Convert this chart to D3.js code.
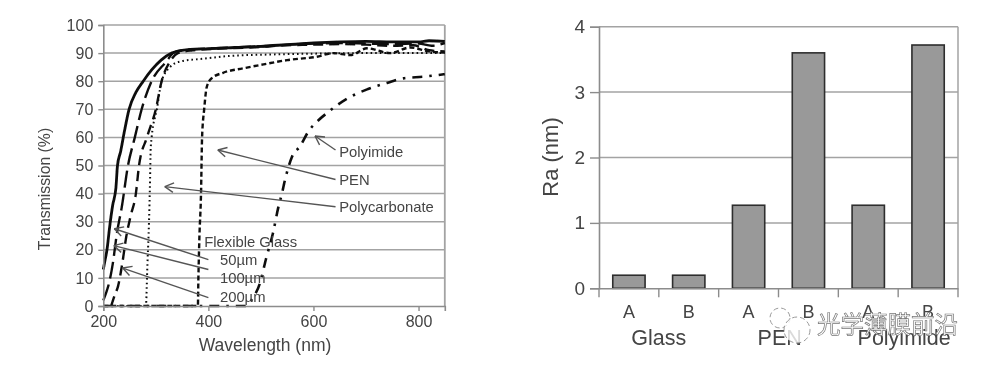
<!DOCTYPE html>
<html>
<head>
<meta charset="utf-8">
<script src="https://cdnjs.cloudflare.com/ajax/libs/d3/7.8.5/d3.min.js"></script>
<style>
  html, body { margin: 0; padding: 0; background: #fff; }
  svg { display: block; font-family: "Liberation Sans", Arial, sans-serif; }
  text { fill: #444; }
</style>
</head>
<body>
<script>
// [wavelength, transmission]
var glass50 = [[200,13],[203,16],[207,20],[212,28],[218,36],[224,42],[227,50],[233,55],[240,62],[249,70],[262,76],[276,80],[292,84],[310,87.5],[330,90],[350,91],[400,91.6],[450,92],[500,92.4],[550,93],[600,93.6],[650,94],[700,94.2],[750,94],[800,94],[820,94.4],[850,94.2]];
var glass100 = [[200,2],[206,5],[212,9],[218,15],[226,26],[235,35],[247,50],[260,60],[273,70],[292,80],[320,87],[333,90],[350,91],[400,91.6],[450,92],[500,92.4],[550,93],[600,93.4],[650,93.6],[700,93.4],[750,93.2],[800,93.4],[825,92.6],[850,93.6]];
var glass200 = [[215,0],[222,4],[228,7],[236,15],[244,25],[252,32],[262,40],[268,50],[283,60],[300,70],[311,80],[327,87],[342,90],[370,91],[420,91.6],[480,92],[550,92.8],[600,93],[650,93.2],[700,93],[750,92.6],[790,92.8],[820,91],[850,90.6]];
var polycarbonate = [[200,0],[281,0],[284,15],[287,30],[289,45],[290,55],[292,60],[302,70],[311,80],[327,85],[346,87],[390,88],[441,89],[518,89.5],[600,89.8],[700,90],[780,90],[850,90]];
var pen = [[200,0],[380,0],[381,10],[383,25],[386,40],[388,60],[392,70],[397,78],[406,81],[428,83],[467,84.6],[505,86],[550,87.5],[606,88.7],[638,90],[670,89.3],[702,91.7],[746,90],[784,92],[820,90.6],[850,90.2]];
var polyimide = [[200,0],[470,0],[485,3],[498,8],[510,17],[523,26],[533,35],[540,40],[546,45],[559,53],[575,57],[590,62],[609,66],[628,69],[666,74],[701,77],[740,79.4],[771,81],[809,81.6],[850,82.5]];

var seriesList = [
  {name: "Polyimide", values: polyimide, dash: "10,7,2.5,7", width: 2.6},
  {name: "PEN", values: pen, dash: "5,3", width: 2.4},
  {name: "Polycarbonate", values: polycarbonate, dash: "1.6,3", width: 2},
  {name: "200um", values: glass200, dash: "10,6", width: 2.4},
  {name: "100um", values: glass100, dash: "17,6", width: 2.4},
  {name: "50um", values: glass50, dash: null, width: 2.8}
];

var wavelengthTicks = [200, 400, 600, 800];
var transmissionTicks = [0, 10, 20, 30, 40, 50, 60, 70, 80, 90, 100];

// arrows and labels, in data units of the left chart
var arrows = [
  [[642,55.5],[603,60.5]],
  [[642,45],[418,55.5]],
  [[642,35.3],[317,42.5]],
  [[400,16.5],[221,27.5]],
  [[400,13],[220,21.5]],
  [[400,3],[237,13.5]]
];
var curveLabels = [
  {text: "Polyimide", w: 649, t: 55},
  {text: "PEN", w: 649, t: 45},
  {text: "Polycarbonate", w: 649, t: 35.3},
  {text: "Flexible Glass", w: 392, t: 22.8},
  {text: "50\u00b5m", w: 422, t: 16.5},
  {text: "100\u00b5m", w: 422, t: 10},
  {text: "200\u00b5m", w: 422, t: 3.3}
];

var barCategories = ["g-A", "g-B", "p-A", "p-B", "i-A", "i-B"];
var barLabels = ["A", "B", "A", "B", "A", "B"];
var barValues = [0.2, 0.2, 1.27, 3.6, 1.27, 3.72];
var groupLabels = ["Glass", "PEN", "Polyimide"];
var groupCenters = [1, 3.02, 5.1];   // in band steps from the axis
var raTicks = [0, 1, 2, 3, 4];

var svg = d3.select("body").append("svg").attr("width", 992).attr("height", 368);

var defs = svg.append("defs");
defs.append("filter").attr("id", "soft").attr("x", "-5%").attr("y", "-5%").attr("width", "110%").attr("height", "110%")
  .append("feGaussianBlur").attr("stdDeviation", 0.45);

var page = svg.append("g").attr("filter", "url(#soft)");

var gridColor = "#a3a3a3";

function styleAxis(g, size) {
  g.select(".domain").attr("stroke", "#8c8c8c").attr("stroke-width", 1.6);
  g.selectAll(".tick line").attr("stroke", "#8c8c8c").attr("stroke-width", 1.4);
  g.selectAll(".tick text").attr("font-size", size).attr("fill", "#444");
}

// ---- left chart
var x = d3.scaleLinear().domain([200, 850]).range([103.3, 444.8]);
var y = d3.scaleLinear().domain([0, 100]).range([306, 25]);

var left = page.append("g");

left.selectAll("line.grid").data(transmissionTicks.slice(1)).enter().append("line")
  .attr("class", "grid")
  .attr("x1", x(200)).attr("x2", x(850))
  .attr("y1", function(d) { return y(d); }).attr("y2", function(d) { return y(d); })
  .attr("stroke", gridColor).attr("stroke-width", 1.5);

left.append("line")
  .attr("x1", x(850)).attr("x2", x(850)).attr("y1", y(0)).attr("y2", y(100))
  .attr("stroke", gridColor).attr("stroke-width", 1.8);

var line = d3.line()
  .x(function(d) { return x(d[0]); })
  .y(function(d) { return y(d[1]); })
  .curve(d3.curveMonotoneX);

left.selectAll("path.curve").data(seriesList).enter().append("path")
  .attr("class", "curve")
  .attr("d", function(d) { return line(d.values); })
  .attr("fill", "none")
  .attr("stroke", "#111")
  .attr("stroke-width", function(d) { return d.width; })
  .attr("stroke-dasharray", function(d) { return d.dash; });

left.append("g").attr("transform", "translate(0," + y(0) + ")")
  .call(d3.axisBottom(x).tickValues(wavelengthTicks).tickSize(5).tickPadding(5).tickFormat(d3.format("d")))
  .call(styleAxis, 16);

left.append("g").attr("transform", "translate(" + x(200) + ",0)")
  .call(d3.axisLeft(y).tickValues(transmissionTicks).tickSize(5).tickPadding(5))
  .call(styleAxis, 16);

left.append("text").attr("x", 265).attr("y", 351).attr("text-anchor", "middle").attr("font-size", 17.5).text("Wavelength (nm)");
left.append("text").attr("transform", "translate(50,189) rotate(-90)").attr("text-anchor", "middle").attr("font-size", 15.8).text("Transmission (%)");

// arrows
var arrowColor = "#555";
arrows.forEach(function(a) {
  var x1 = x(a[0][0]), y1 = y(a[0][1]), x2 = x(a[1][0]), y2 = y(a[1][1]);
  var ang = Math.atan2(y1 - y2, x1 - x2);
  left.append("line").attr("x1", x1).attr("y1", y1).attr("x2", x2).attr("y2", y2)
    .attr("stroke", arrowColor).attr("stroke-width", 1.4);
  [-0.5, 0.5].forEach(function(o) {
    left.append("line").attr("x1", x2).attr("y1", y2)
      .attr("x2", x2 + 10 * Math.cos(ang + o)).attr("y2", y2 + 10 * Math.sin(ang + o))
      .attr("stroke", arrowColor).attr("stroke-width", 1.4);
  });
});

left.selectAll("text.curve-label").data(curveLabels).enter().append("text")
  .attr("class", "curve-label")
  .attr("x", function(d) { return x(d.w); })
  .attr("y", function(d) { return y(d.t); })
  .attr("dy", "0.35em")
  .attr("font-size", 14.8)
  .text(function(d) { return d.text; });

// ---- right chart
var xBar = d3.scaleBand().domain(barCategories).range([599, 958]).paddingInner(0.46).paddingOuter(0.23);
var yBar = d3.scaleLinear().domain([0, 4]).range([288.3, 26.7]);
var step = xBar.step();

var right = page.append("g");

right.selectAll("line.grid").data(raTicks.slice(1)).enter().append("line")
  .attr("class", "grid")
  .attr("x1", 599).attr("x2", 958)
  .attr("y1", function(d) { return yBar(d); }).attr("y2", function(d) { return yBar(d); })
  .attr("stroke", gridColor).attr("stroke-width", 1.5);

right.append("line").attr("x1", 958).attr("x2", 958).attr("y1", yBar(0)).attr("y2", yBar(4))
  .attr("stroke", gridColor).attr("stroke-width", 1.5);

right.selectAll("rect.bar").data(barValues).enter().append("rect")
  .attr("class", "bar")
  .attr("x", function(d, i) { return xBar(barCategories[i]); })
  .attr("width", xBar.bandwidth())
  .attr("y", function(d) { return yBar(d); })
  .attr("height", function(d) { return yBar(0) - yBar(d); })
  .attr("fill", "#999")
  .attr("stroke", "#2e2e2e")
  .attr("stroke-width", 1.6);

right.append("g").attr("transform", "translate(599,0)")
  .call(d3.axisLeft(yBar).tickValues(raTicks).tickSize(9).tickPadding(5).tickFormat(d3.format("d")))
  .call(styleAxis, 19);

var xAxisBar = d3.axisBottom(xBar).tickSize(0).tickPadding(17)
  .tickFormat(function(d, i) { return barLabels[i]; });
right.append("g").attr("transform", "translate(0," + yBar(0) + ")")
  .call(xAxisBar)
  .call(styleAxis, 18);

// separators under the axis, one at each band edge
right.selectAll("line.sep").data(d3.range(barCategories.length + 1)).enter().append("line")
  .attr("class", "sep")
  .attr("x1", function(d) { return 599 + d * step; })
  .attr("x2", function(d) { return 599 + d * step; })
  .attr("y1", yBar(0)).attr("y2", yBar(0) + 9)
  .attr("stroke", "#8c8c8c").attr("stroke-width", 1.4);

right.selectAll("text.group").data(groupLabels).enter().append("text")
  .attr("class", "group")
  .attr("x", function(d, i) { return 599 + groupCenters[i] * step; })
  .attr("y", 345)
  .attr("text-anchor", "middle")
  .attr("font-size", 21.5)
  .text(function(d) { return d; });

right.append("text").attr("transform", "translate(558,157) rotate(-90)")
  .attr("text-anchor", "middle").attr("font-size", 22).text("Ra (nm)");

// ---- watermark
var mark = svg.append("g").attr("filter", "url(#soft)");
[[780,318,10],[797,330,13]].forEach(function(c) {
  mark.append("circle").attr("cx", c[0]).attr("cy", c[1]).attr("r", c[2])
    .attr("fill", "#fff").attr("fill-opacity", 0.8)
    .attr("stroke", "#999").attr("stroke-width", 1).attr("stroke-dasharray", "5,3");
});
mark.append("text").attr("x", 817).attr("y", 333).attr("font-size", 23.5)
  .style("font-family", '"Noto Sans CJK SC", sans-serif')
  .style("fill", "#fff").attr("stroke", "#777").attr("stroke-width", 0.7)
  .text("光学薄膜前沿");
</script>
</body>
</html>
